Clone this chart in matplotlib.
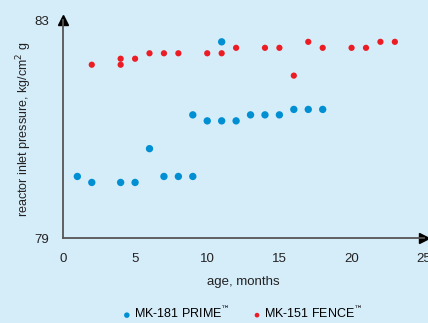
import matplotlib
matplotlib.use('Agg')
import matplotlib.pyplot as plt

# data
prime_months = [1, 2, 4, 5, 6, 7, 8, 9, 9, 10, 11, 11, 12, 13, 14, 15, 16, 17, 18]
prime_values = [80.13, 80.02, 80.02, 80.02, 80.64, 80.13, 80.13, 80.13, 81.26, 81.15,
                82.6, 81.15, 81.15, 81.26, 81.26, 81.26, 81.36, 81.36, 81.36]

fence_months = [2, 4, 4, 5, 6, 7, 8, 10, 11, 12, 14, 15, 16, 17, 18, 20, 21, 22, 23]
fence_values = [82.18, 82.29, 82.18, 82.29, 82.39, 82.39, 82.39, 82.39, 82.39, 82.49,
                82.49, 82.49, 81.98, 82.6, 82.49, 82.49, 82.49, 82.6, 82.6]

x_ticks = [0, 5, 10, 15, 20, 25]
y_ticks = [79, 83]

bg = '#d5ecf9'
blue = '#008fd3'
red = '#ec1c24'

plt.rcParams['font.family'] = ['Liberation Sans', 'DejaVu Sans']

fig = plt.figure(figsize=(4.28, 3.23), dpi=100, facecolor=bg)
ax = fig.add_axes([0.147, 0.263, 0.843, 0.675])
ax.set_facecolor(bg)

ax.scatter(prime_months, prime_values, s=28, color=blue, edgecolors='none',
           label='MK-181 PRIME$^{\u2122}$', clip_on=False, zorder=3)
ax.scatter(fence_months, fence_values, s=20, color=red, edgecolors='none',
           label='MK-151 FENCE$^{\u2122}$', clip_on=False, zorder=3)

ax.set_xlim(0, 25)
ax.set_ylim(79, 83)
ax.set_xticks(x_ticks)
ax.set_yticks(y_ticks)
ax.tick_params(length=0, labelsize=9.5, colors='#222222', pad=11)
ax.tick_params(axis='y', pad=10)

for s in ['top', 'right']:
    ax.spines[s].set_visible(False)
for s in ['left', 'bottom']:
    ax.spines[s].set_color('#555555')
    ax.spines[s].set_linewidth(1.3)

# arrow heads
ax.plot(1, 0, '>', color='black', markersize=7, transform=ax.transAxes, clip_on=False)
ax.plot(0, 1, '^', color='black', markersize=7, transform=ax.transAxes, clip_on=False)

ax.set_xlabel('age, months', fontsize=9.5, color='#222222', labelpad=8)
ax.set_ylabel('reactor inlet pressure, kg/cm$^2$ g', fontsize=9, color='#222222', labelpad=0)

leg = fig.legend(loc='lower center', bbox_to_anchor=(0.557, -0.03), ncol=2, frameon=False,
                 fontsize=9, handletextpad=-0.45, columnspacing=1.2, markerscale=0.75)

fig.savefig('out.png', dpi=100, facecolor=bg)
